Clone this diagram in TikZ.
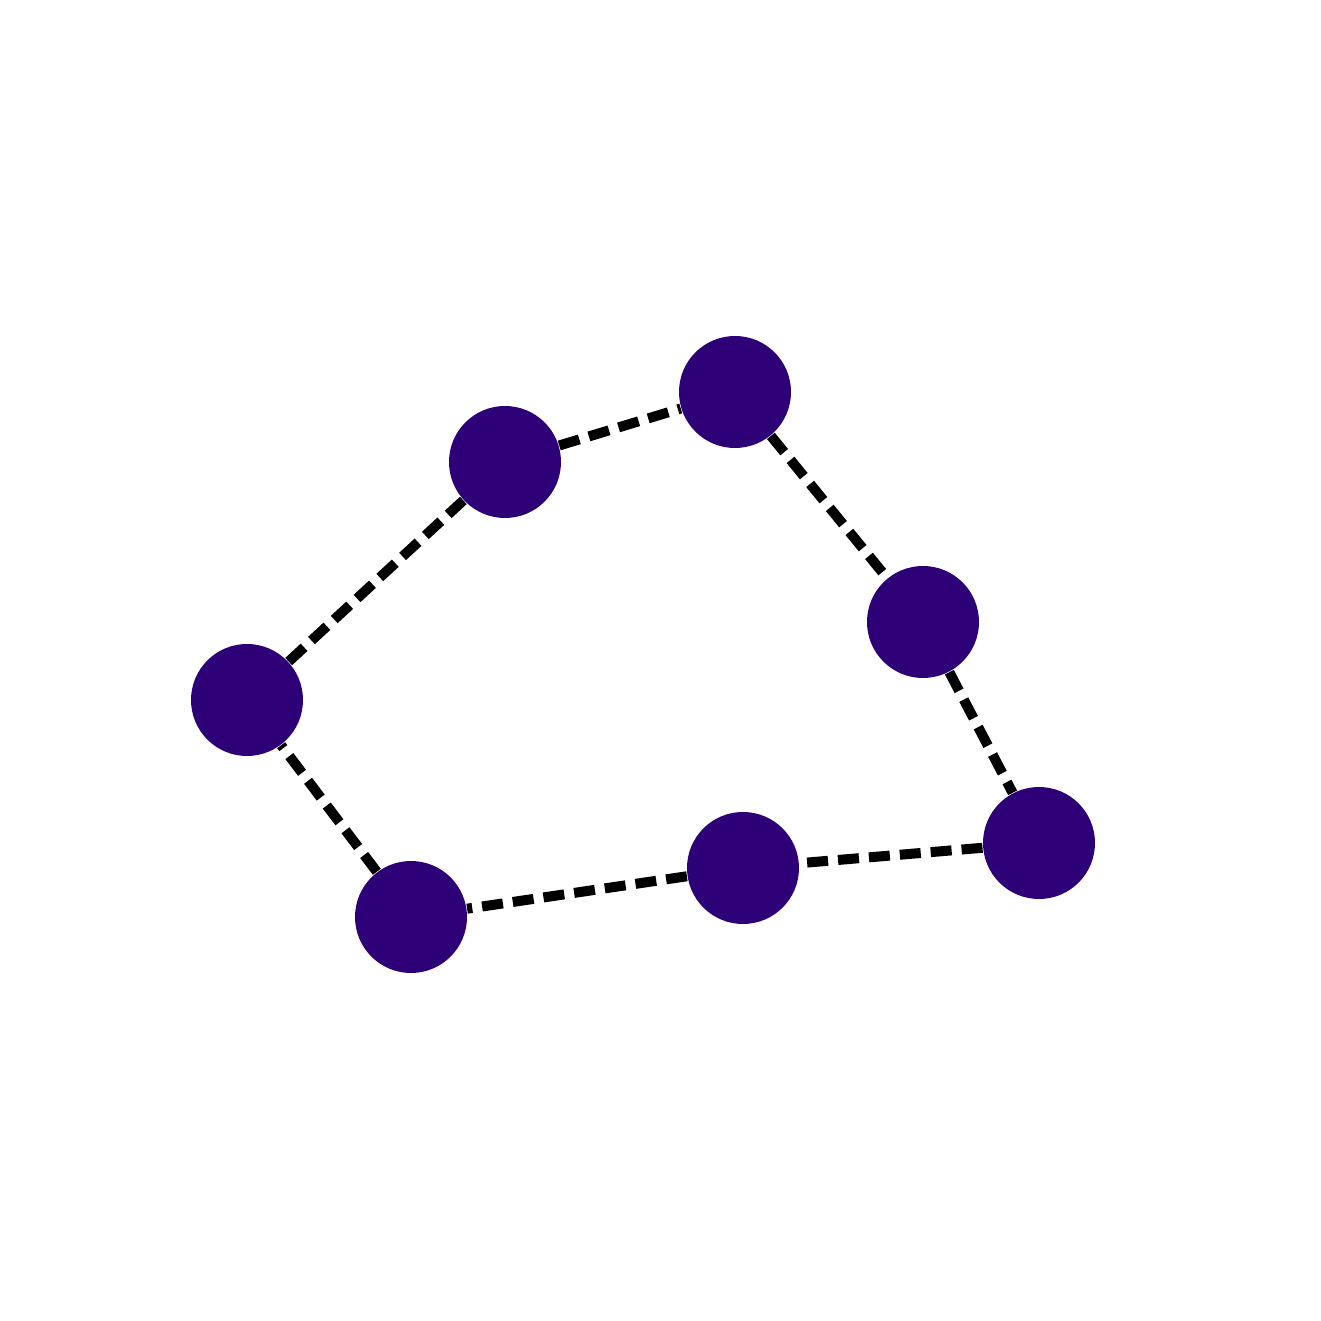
\documentclass[tikz,border=0pt]{standalone}
\usepackage{tikz}
\definecolor{nodepurple}{RGB}{45,0,119}
\tikzset{
	dot/.style={circle, fill=nodepurple, minimum size=1.12cm, inner sep=0pt},
	link/.style={line width=0.1cm, dash pattern=on 0.21cm off 0.1cm}
}

\begin{document}
\begin{tikzpicture}
		%%%%% START %%%%%
		
		\useasboundingbox (0, 0) rectangle (13.21, 13.21);
		
		\node[dot] (left) at (2.47, 6.21) {};
		\node[dot] (upleft) at (5.05, 8.59) {};
		\node[dot] (top) at (7.35, 9.29) {};
		\node[dot] (upright) at (9.23, 6.99) {};
		\node[dot] (right) at (10.39, 4.78) {};
		\node[dot] (lowmid) at (7.43, 4.53) {};
		\node[dot] (lowleft) at (4.11, 4.04) {};
		
		\draw[link] (left) -- (upleft);
		\draw[link] (upleft) -- (top);
		\draw[link] (top) -- (upright);
		\draw[link] (upright) -- (right);
		\draw[link] (right) -- (lowmid);
		\draw[link] (lowmid) -- (lowleft);
		\draw[link] (lowleft) -- (left);
		
		%%%%% END %%%%%
	\end{tikzpicture}
\end{document}
